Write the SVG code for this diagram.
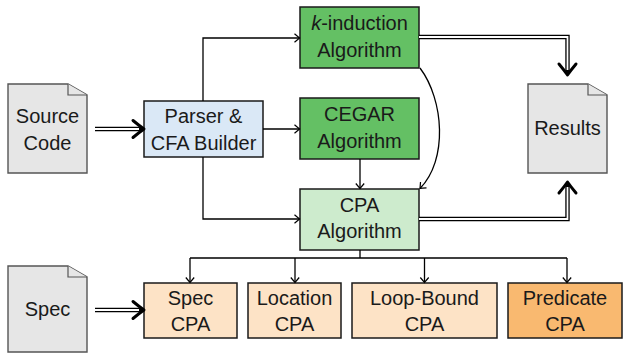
<svg xmlns="http://www.w3.org/2000/svg" width="624" height="353" viewBox="0 0 624 353">
<style>
text{font-family:"Liberation Sans",Arial,sans-serif;font-size:20px;fill:#1a1a1a;text-anchor:middle}
.box{stroke:#1a1a1a;stroke-width:1.5}
.doc{fill:#e6e6e6;stroke:#555;stroke-width:1.4}
.fold{fill:#e6e6e6;stroke:#555;stroke-width:1.2}
.ln{fill:none;stroke:#000;stroke-width:1.3}
.dbo{fill:none;stroke:#000;stroke-width:4.4}
.dbi{fill:none;stroke:#fff;stroke-width:1.8}
.green{fill:#64c064}
.lgreen{fill:#cdebcd}
.blue{fill:#dae8f6}
.lorange{fill:#fde3c6}
.orange{fill:#f9b970}
</style>
<defs>
<marker id="ar" viewBox="-7 -6 9 12" refX="0" refY="0" markerWidth="9" markerHeight="12" orient="auto" markerUnits="userSpaceOnUse">
<path d="M-5,-4.2 Q-1.5,-1.2 0,0 Q-1.5,1.2 -5,4.2" fill="none" stroke="#000" stroke-width="1.2"/>
</marker>
<path id="imp" d="M-11,-8.5 Q-5,-3.5 0,0 Q-5,3.5 -11,8.5" fill="none" stroke="#000" stroke-width="3" stroke-linecap="round" stroke-linejoin="round"/>
</defs>

<g id="source">
<path class="doc" d="M8,84 H68 L87,95 V173 H8 Z"/>
<path class="fold" d="M68,84 V95 H87"/>
<text x="47.5" y="123">Source</text>
<text x="47.5" y="150">Code</text>
</g>

<g id="spec">
<path class="doc" d="M8,266 H68 L87,277 V352 H8 Z"/>
<path class="fold" d="M68,266 V277 H87"/>
<text x="47.5" y="316">Spec</text>
</g>

<g id="results">
<path class="doc" d="M528,84 H588 L607,95 V173 H528 Z"/>
<path class="fold" d="M588,84 V95 H607"/>
<text x="567.5" y="135">Results</text>
</g>

<g id="parser">
<rect class="box blue" x="144" y="101" width="119" height="56"/>
<text x="203.5" y="123">Parser &amp;</text>
<text x="203.5" y="150">CFA Builder</text>
</g>

<g id="kinduction">
<rect class="box green" x="300" y="7" width="119" height="61"/>
<text x="359.5" y="30"><tspan font-style="italic">k</tspan>-induction</text>
<text x="359.5" y="57">Algorithm</text>
</g>

<g id="cegar">
<rect class="box green" x="300" y="98" width="119" height="61"/>
<text x="359.5" y="121">CEGAR</text>
<text x="359.5" y="148">Algorithm</text>
</g>

<g id="cpa">
<rect class="box lgreen" x="300" y="189" width="119" height="61"/>
<text x="359.5" y="212">CPA</text>
<text x="359.5" y="238">Algorithm</text>
</g>

<g id="speccpa">
<rect class="box lorange" x="144" y="283" width="93" height="55"/>
<text x="190.5" y="305">Spec</text>
<text x="190.5" y="331">CPA</text>
</g>

<g id="locationcpa">
<rect class="box lorange" x="248" y="283" width="93" height="55"/>
<text x="294.5" y="305">Location</text>
<text x="294.5" y="331">CPA</text>
</g>

<g id="loopboundcpa">
<rect class="box lorange" x="352" y="283" width="145" height="55"/>
<text x="424.5" y="305">Loop-Bound</text>
<text x="424.5" y="331">CPA</text>
</g>

<g id="predicatecpa">
<rect class="box orange" x="508" y="283" width="114" height="55"/>
<text x="565" y="305">Predicate</text>
<text x="565" y="331">CPA</text>
</g>

<g id="connectors">
<path class="ln" d="M203,101 V38 H299.5" marker-end="url(#ar)"/>
<path class="ln" d="M263,129 H299.5" marker-end="url(#ar)"/>
<path class="ln" d="M203,157 V219 H299.5" marker-end="url(#ar)"/>
<path class="ln" d="M360,159 V188.5" marker-end="url(#ar)"/>
<path class="ln" d="M420,68 C444,100 448,160 420,188.5" marker-end="url(#ar)"/>
<path class="ln" d="M360,250 V258 M190,258 H567"/>
<path class="ln" d="M190,258 V282.5" marker-end="url(#ar)"/>
<path class="ln" d="M295,258 V282.5" marker-end="url(#ar)"/>
<path class="ln" d="M424.5,258 V282.5" marker-end="url(#ar)"/>
<path class="ln" d="M567,258 V282.5" marker-end="url(#ar)"/>

<path class="dbo" d="M95,129 H142"/>
<path class="dbi" d="M95,129 H139"/>
<use href="#imp" transform="translate(144,129)"/>

<path class="dbo" d="M95,310 H142"/>
<path class="dbi" d="M95,310 H139"/>
<use href="#imp" transform="translate(144,310)"/>

<path class="dbo" d="M419,37 H567.5 V73"/>
<path class="dbi" d="M419,37 H567.5 V70"/>
<use href="#imp" transform="translate(567.5,75) rotate(90)"/>

<path class="dbo" d="M419,219 H567.5 V184"/>
<path class="dbi" d="M419,219 H567.5 V187"/>
<use href="#imp" transform="translate(567.5,182) rotate(-90)"/>
</g>
</svg>
